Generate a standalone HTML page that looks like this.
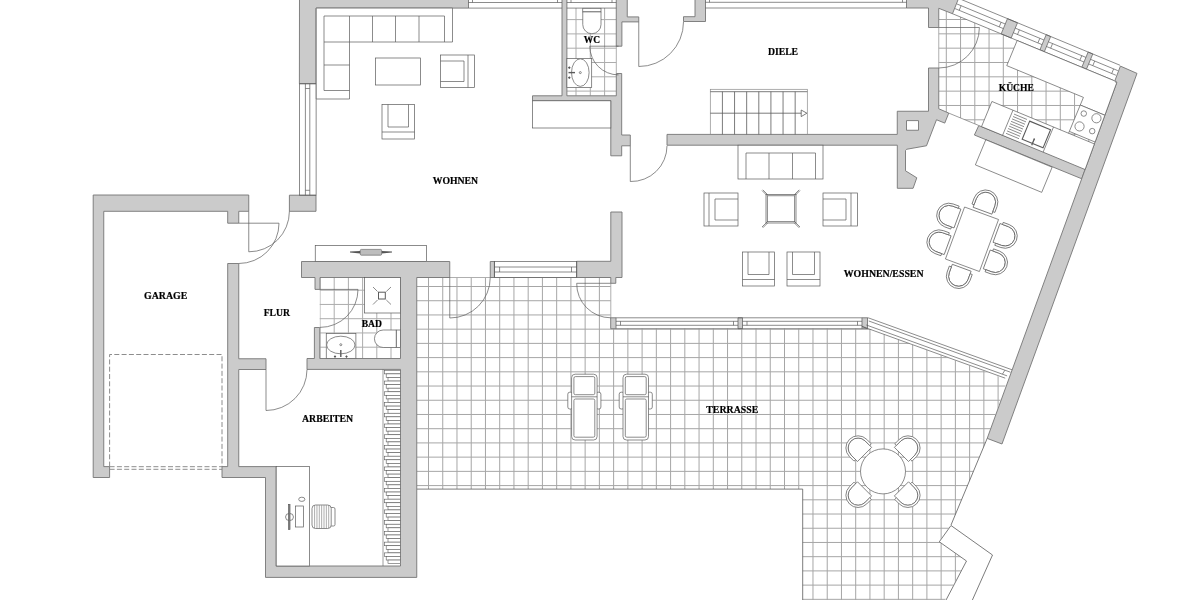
<!DOCTYPE html>
<html lang="de"><head><meta charset="utf-8"><title>Grundriss</title>
<style>html,body{margin:0;padding:0;background:#fff;}body{width:1200px;height:600px;overflow:hidden;}svg{display:block;}text{font-family:"Liberation Serif",serif;font-weight:bold;fill:#000;stroke:#000;stroke-width:0.2px;}</style>
</head><body>
<svg width="1200" height="600" viewBox="0 0 1200 600">
<rect x="0" y="0" width="1200" height="600" fill="#fff"/>
<defs>
<clipPath id="cT"><polygon points="416.75,277.50 610.80,277.50 610.80,328.70 868.75,328.70 1007.50,379.80 987.20,438.40 951.00,525.00 939.00,541.50 966.60,561.00 945.00,600.00 802.70,600.00 802.70,489.10 416.75,489.10"/></clipPath>
<clipPath id="cK"><polygon points="938.75,8.30 952.49,13.71 1116.90,82.10 1085.40,168.75 978.72,125.46 948.75,113.10 938.75,108.75"/></clipPath>
<clipPath id="cW"><rect x="566.9" y="8.1" width="49.4" height="87.7"/></clipPath>
<clipPath id="cB"><rect x="319.75" y="277.5" width="80.8" height="81"/></clipPath>
<filter id="idf" x="0" y="0" width="1200" height="600" filterUnits="userSpaceOnUse" color-interpolation-filters="sRGB"><feOffset dx="0" dy="0"/></filter>
</defs>
<g clip-path="url(#cT)" stroke="#a6a6a6" stroke-width="1" fill="none">
<line x1="428.50" y1="270.00" x2="428.50" y2="600.00" />
<line x1="442.74" y1="270.00" x2="442.74" y2="600.00" />
<line x1="456.98" y1="270.00" x2="456.98" y2="600.00" />
<line x1="471.22" y1="270.00" x2="471.22" y2="600.00" />
<line x1="485.46" y1="270.00" x2="485.46" y2="600.00" />
<line x1="499.70" y1="270.00" x2="499.70" y2="600.00" />
<line x1="513.94" y1="270.00" x2="513.94" y2="600.00" />
<line x1="528.18" y1="270.00" x2="528.18" y2="600.00" />
<line x1="542.42" y1="270.00" x2="542.42" y2="600.00" />
<line x1="556.66" y1="270.00" x2="556.66" y2="600.00" />
<line x1="570.90" y1="270.00" x2="570.90" y2="600.00" />
<line x1="585.14" y1="270.00" x2="585.14" y2="600.00" />
<line x1="599.38" y1="270.00" x2="599.38" y2="600.00" />
<line x1="613.62" y1="270.00" x2="613.62" y2="600.00" />
<line x1="627.86" y1="270.00" x2="627.86" y2="600.00" />
<line x1="642.10" y1="270.00" x2="642.10" y2="600.00" />
<line x1="656.34" y1="270.00" x2="656.34" y2="600.00" />
<line x1="670.58" y1="270.00" x2="670.58" y2="600.00" />
<line x1="684.82" y1="270.00" x2="684.82" y2="600.00" />
<line x1="699.06" y1="270.00" x2="699.06" y2="600.00" />
<line x1="713.30" y1="270.00" x2="713.30" y2="600.00" />
<line x1="727.54" y1="270.00" x2="727.54" y2="600.00" />
<line x1="741.78" y1="270.00" x2="741.78" y2="600.00" />
<line x1="756.02" y1="270.00" x2="756.02" y2="600.00" />
<line x1="770.26" y1="270.00" x2="770.26" y2="600.00" />
<line x1="784.50" y1="270.00" x2="784.50" y2="600.00" />
<line x1="798.74" y1="270.00" x2="798.74" y2="600.00" />
<line x1="812.98" y1="270.00" x2="812.98" y2="600.00" />
<line x1="827.22" y1="270.00" x2="827.22" y2="600.00" />
<line x1="841.46" y1="270.00" x2="841.46" y2="600.00" />
<line x1="855.70" y1="270.00" x2="855.70" y2="600.00" />
<line x1="869.94" y1="270.00" x2="869.94" y2="600.00" />
<line x1="884.18" y1="270.00" x2="884.18" y2="600.00" />
<line x1="898.42" y1="270.00" x2="898.42" y2="600.00" />
<line x1="912.66" y1="270.00" x2="912.66" y2="600.00" />
<line x1="926.90" y1="270.00" x2="926.90" y2="600.00" />
<line x1="941.14" y1="270.00" x2="941.14" y2="600.00" />
<line x1="955.38" y1="270.00" x2="955.38" y2="600.00" />
<line x1="969.62" y1="270.00" x2="969.62" y2="600.00" />
<line x1="983.86" y1="270.00" x2="983.86" y2="600.00" />
<line x1="998.10" y1="270.00" x2="998.10" y2="600.00" />
<line x1="410.00" y1="286.50" x2="1010.00" y2="286.50" />
<line x1="410.00" y1="300.72" x2="1010.00" y2="300.72" />
<line x1="410.00" y1="314.94" x2="1010.00" y2="314.94" />
<line x1="410.00" y1="329.16" x2="1010.00" y2="329.16" />
<line x1="410.00" y1="343.38" x2="1010.00" y2="343.38" />
<line x1="410.00" y1="357.60" x2="1010.00" y2="357.60" />
<line x1="410.00" y1="371.82" x2="1010.00" y2="371.82" />
<line x1="410.00" y1="386.04" x2="1010.00" y2="386.04" />
<line x1="410.00" y1="400.26" x2="1010.00" y2="400.26" />
<line x1="410.00" y1="414.48" x2="1010.00" y2="414.48" />
<line x1="410.00" y1="428.70" x2="1010.00" y2="428.70" />
<line x1="410.00" y1="442.92" x2="1010.00" y2="442.92" />
<line x1="410.00" y1="457.14" x2="1010.00" y2="457.14" />
<line x1="410.00" y1="471.36" x2="1010.00" y2="471.36" />
<line x1="410.00" y1="485.58" x2="1010.00" y2="485.58" />
<line x1="410.00" y1="499.80" x2="1010.00" y2="499.80" />
<line x1="410.00" y1="514.02" x2="1010.00" y2="514.02" />
<line x1="410.00" y1="528.24" x2="1010.00" y2="528.24" />
<line x1="410.00" y1="542.46" x2="1010.00" y2="542.46" />
<line x1="410.00" y1="556.68" x2="1010.00" y2="556.68" />
<line x1="410.00" y1="570.90" x2="1010.00" y2="570.90" />
<line x1="410.00" y1="585.12" x2="1010.00" y2="585.12" />
<line x1="410.00" y1="599.34" x2="1010.00" y2="599.34" />
</g>
<g stroke="#a6a6a6" stroke-width="0.9" fill="none">
<line x1="416.75" y1="277.50" x2="610.80" y2="277.50" />
<line x1="610.80" y1="283.30" x2="610.80" y2="317.80" />
<line x1="938.75" y1="27.50" x2="938.75" y2="68.00" />
<line x1="616.30" y1="46.20" x2="616.30" y2="73.50" />
</g>
<g stroke="#5a5a5a" stroke-width="0.8" fill="none">
<polyline points="416.75,489.10 802.70,489.10 802.70,600.00" />
<polyline points="987.20,438.40 951.00,525.00" />
</g>
<g clip-path="url(#cK)" stroke="#a6a6a6" stroke-width="1" fill="none">
<line x1="946.30" y1="0.00" x2="946.30" y2="180.00" />
<line x1="960.55" y1="0.00" x2="960.55" y2="180.00" />
<line x1="974.80" y1="0.00" x2="974.80" y2="180.00" />
<line x1="989.05" y1="0.00" x2="989.05" y2="180.00" />
<line x1="1003.30" y1="0.00" x2="1003.30" y2="180.00" />
<line x1="1017.55" y1="0.00" x2="1017.55" y2="180.00" />
<line x1="1031.80" y1="0.00" x2="1031.80" y2="180.00" />
<line x1="1046.05" y1="0.00" x2="1046.05" y2="180.00" />
<line x1="1060.30" y1="0.00" x2="1060.30" y2="180.00" />
<line x1="1074.55" y1="0.00" x2="1074.55" y2="180.00" />
<line x1="1088.80" y1="0.00" x2="1088.80" y2="180.00" />
<line x1="1103.05" y1="0.00" x2="1103.05" y2="180.00" />
<line x1="1117.30" y1="0.00" x2="1117.30" y2="180.00" />
<line x1="1131.55" y1="0.00" x2="1131.55" y2="180.00" />
<line x1="930.00" y1="19.50" x2="1130.00" y2="19.50" />
<line x1="930.00" y1="33.83" x2="1130.00" y2="33.83" />
<line x1="930.00" y1="48.16" x2="1130.00" y2="48.16" />
<line x1="930.00" y1="62.49" x2="1130.00" y2="62.49" />
<line x1="930.00" y1="76.82" x2="1130.00" y2="76.82" />
<line x1="930.00" y1="91.15" x2="1130.00" y2="91.15" />
<line x1="930.00" y1="105.48" x2="1130.00" y2="105.48" />
<line x1="930.00" y1="119.81" x2="1130.00" y2="119.81" />
<line x1="930.00" y1="134.14" x2="1130.00" y2="134.14" />
<line x1="930.00" y1="148.47" x2="1130.00" y2="148.47" />
<line x1="930.00" y1="162.80" x2="1130.00" y2="162.80" />
<line x1="930.00" y1="177.13" x2="1130.00" y2="177.13" />
</g>
<line x1="948.75" y1="113.10" x2="978.72" y2="125.46" stroke="#5a5a5a" stroke-width="0.6"/>
<g clip-path="url(#cW)" stroke="#adadad" stroke-width="1" fill="none">
<line x1="576.00" y1="0.00" x2="576.00" y2="100.00" />
<line x1="590.30" y1="0.00" x2="590.30" y2="100.00" />
<line x1="604.60" y1="0.00" x2="604.60" y2="100.00" />
<line x1="560.00" y1="5.30" x2="620.00" y2="5.30" />
<line x1="560.00" y1="19.60" x2="620.00" y2="19.60" />
<line x1="560.00" y1="33.90" x2="620.00" y2="33.90" />
<line x1="560.00" y1="48.20" x2="620.00" y2="48.20" />
<line x1="560.00" y1="62.50" x2="620.00" y2="62.50" />
<line x1="560.00" y1="76.80" x2="620.00" y2="76.80" />
<line x1="560.00" y1="91.10" x2="620.00" y2="91.10" />
</g>
<g clip-path="url(#cB)" stroke="#adadad" stroke-width="1" fill="none">
<line x1="320.00" y1="270.00" x2="320.00" y2="360.00" />
<line x1="334.20" y1="270.00" x2="334.20" y2="360.00" />
<line x1="348.40" y1="270.00" x2="348.40" y2="360.00" />
<line x1="362.60" y1="270.00" x2="362.60" y2="360.00" />
<line x1="376.80" y1="270.00" x2="376.80" y2="360.00" />
<line x1="391.00" y1="270.00" x2="391.00" y2="360.00" />
<line x1="315.00" y1="290.20" x2="401.00" y2="290.20" />
<line x1="315.00" y1="304.45" x2="401.00" y2="304.45" />
<line x1="315.00" y1="318.70" x2="401.00" y2="318.70" />
<line x1="315.00" y1="332.95" x2="401.00" y2="332.95" />
<line x1="315.00" y1="347.20" x2="401.00" y2="347.20" />
<line x1="315.00" y1="361.45" x2="401.00" y2="361.45" />
</g>
<g fill="#cbcbcb" stroke="#757575" stroke-width="0.9" stroke-linejoin="miter">
<polygon points="299.50,-2.00 468.50,-2.00 468.50,8.10 316.00,8.10 316.00,83.75 299.40,83.75" />
<polygon points="289.40,195.20 316.00,195.20 316.00,211.30 289.40,211.30" />
<polygon points="93.20,195.00 248.75,195.00 248.75,211.30 238.75,211.30 238.75,223.20 227.70,223.20 227.70,211.30 103.75,211.30 103.75,466.60 109.60,466.60 109.60,477.50 93.20,477.50" />
<polygon points="227.70,263.50 238.75,263.50 238.75,358.75 266.00,358.75 266.00,369.50 238.75,369.50 238.75,466.60 276.20,466.60 276.20,566.00 400.50,566.00 400.50,369.40 307.00,369.40 307.00,358.50 314.40,358.50 314.40,327.50 319.75,327.50 319.75,358.50 400.50,358.50 400.50,277.50 320.00,277.50 320.00,289.40 315.00,289.40 315.00,277.50 301.50,277.50 301.50,261.50 449.75,261.50 449.75,277.50 416.75,277.50 416.75,577.40 265.50,577.40 265.50,477.50 222.00,477.50 222.00,466.60 227.70,466.60" />
<polygon points="610.80,212.00 622.00,212.00 622.00,277.50 615.80,277.50 615.80,283.30 610.80,283.30 610.80,277.50 576.70,277.50 576.70,261.30 610.80,261.30" />
<polygon points="616.25,-2.00 627.25,-2.00 627.25,16.90 638.75,16.90 638.75,21.90 621.90,21.90 621.90,46.20 616.25,46.20" />
<polygon points="532.50,95.80 562.00,95.80 562.00,-2.00 566.90,-2.00 566.90,95.80 616.30,95.80 616.30,73.50 621.70,73.50 621.70,135.00 630.30,135.00 630.30,145.80 621.70,145.80 621.70,155.80 610.80,155.80 610.80,100.80 532.50,100.80" />
<polygon points="695.00,-2.00 705.50,-2.00 705.50,21.50 683.50,21.50 683.50,16.70 695.00,16.70" />
<polygon points="906.50,-2.00 906.50,8.00 928.50,8.00 928.50,27.50 938.75,27.50 938.75,8.30 952.49,13.71 958.75,-2.00" />
<path fill-rule="evenodd" d="M667,134.4 L897.25,134.4 L897.25,111.25 L928.5,111.25 L928.5,68 L938.75,68 L938.75,108.75 L948.75,113.1 L944.75,123.1 L936.5,119.75 L926.5,145.75 L906.7,149.25 L905.5,150.5 L905.5,170.8 L916.8,177.8 L913.1,188.3 L897.3,188.3 L897.3,145.2 L667,145.2 Z M906.5,120.6 L918.5,120.6 L918.5,130.25 L906.5,130.25 Z"/>
<polygon points="978.75,125.60 1085.40,168.75 1081.70,178.75 974.40,135.00" />
<polygon points="1007.49,18.64 1017.47,22.77 1011.16,38.01 1001.18,33.88" />
<polygon points="1046.20,34.67 1050.64,36.51 1044.32,51.75 1039.89,49.92" />
<polygon points="1088.15,52.04 1092.77,53.96 1086.45,69.20 1081.83,67.29" />
<polygon points="610.70,317.80 616.00,317.80 616.00,328.70 610.70,328.70" />
<polygon points="738.00,317.80 742.50,317.80 742.50,328.70 738.00,328.70" />
<polygon points="862.00,317.80 867.50,317.80 867.50,328.70 862.00,328.70" />
<polygon points="490.25,261.50 494.40,261.50 494.40,277.50 490.25,277.50" />
</g>
<g fill="none" stroke="#5a5a5a" stroke-width="0.7">
<line x1="468.50" y1="8.10" x2="562.00" y2="8.10" />
<line x1="468.50" y1="2.50" x2="562.00" y2="2.50" />
<line x1="472.50" y1="0.00" x2="472.50" y2="2.50" />
<line x1="557.50" y1="0.00" x2="557.50" y2="2.50" />
<line x1="566.90" y1="8.10" x2="616.25" y2="8.10" />
<line x1="566.90" y1="2.50" x2="616.25" y2="2.50" />
<line x1="571.00" y1="0.00" x2="571.00" y2="2.50" />
<line x1="612.00" y1="0.00" x2="612.00" y2="2.50" />
<line x1="705.50" y1="8.00" x2="906.50" y2="8.00" />
<line x1="705.50" y1="2.30" x2="906.50" y2="2.30" />
<line x1="709.50" y1="0.00" x2="709.50" y2="2.30" />
<line x1="902.50" y1="0.00" x2="902.50" y2="2.30" />
<rect x="299.50" y="83.75" width="16.60" height="111.45" />
<line x1="305.40" y1="83.75" x2="305.40" y2="195.20" />
<line x1="309.80" y1="83.75" x2="309.80" y2="195.20" />
<line x1="305.40" y1="88.50" x2="309.80" y2="88.50" />
<line x1="305.40" y1="190.30" x2="309.80" y2="190.30" />
<rect x="494.40" y="261.50" width="82.30" height="16.00" />
<line x1="494.40" y1="267.00" x2="576.70" y2="267.00" />
<line x1="494.40" y1="272.00" x2="576.70" y2="272.00" />
<line x1="499.60" y1="267.00" x2="499.60" y2="272.00" />
<line x1="571.50" y1="267.00" x2="571.50" y2="272.00" />
<line x1="616.00" y1="317.80" x2="862.00" y2="317.80" />
<line x1="616.00" y1="328.70" x2="862.00" y2="328.70" />
<line x1="616.00" y1="321.30" x2="738.00" y2="321.30" />
<line x1="616.00" y1="325.30" x2="738.00" y2="325.30" />
<line x1="620.50" y1="321.30" x2="620.50" y2="325.30" />
<line x1="733.50" y1="321.30" x2="733.50" y2="325.30" />
<line x1="742.50" y1="321.30" x2="862.00" y2="321.30" />
<line x1="742.50" y1="325.30" x2="862.00" y2="325.30" />
<line x1="747.00" y1="321.30" x2="747.00" y2="325.30" />
<line x1="857.50" y1="321.30" x2="857.50" y2="325.30" />
<polyline points="867.50,317.80 868.75,318.00 1012.44,369.94" />
<polyline points="867.50,328.70 861.90,326.37 1005.21,378.17" />
<line x1="868.74" y1="320.97" x2="1010.55" y2="372.23" />
<line x1="866.23" y1="324.96" x2="1007.10" y2="375.88" />
<line x1="1004.91" y1="370.19" x2="1002.40" y2="374.18" />
<line x1="959.27" y1="-1.34" x2="1120.02" y2="65.25" />
<line x1="952.49" y1="13.71" x2="1113.71" y2="80.49" />
<line x1="956.95" y1="3.98" x2="1005.27" y2="24.00" />
<line x1="955.04" y1="8.60" x2="1003.36" y2="28.61" />
<line x1="961.11" y1="5.70" x2="959.20" y2="10.32" />
<line x1="1001.12" y1="22.27" x2="999.20" y2="26.89" />
<line x1="1015.25" y1="28.13" x2="1043.98" y2="40.03" />
<line x1="1013.34" y1="32.75" x2="1042.07" y2="44.65" />
<line x1="1019.41" y1="29.85" x2="1017.50" y2="34.47" />
<line x1="1039.83" y1="38.31" x2="1037.91" y2="42.93" />
<line x1="1048.42" y1="41.87" x2="1085.93" y2="57.40" />
<line x1="1046.51" y1="46.49" x2="1084.01" y2="62.02" />
<line x1="1052.58" y1="43.59" x2="1050.66" y2="48.21" />
<line x1="1081.77" y1="55.68" x2="1079.86" y2="60.30" />
<line x1="1090.55" y1="59.32" x2="1117.80" y2="70.61" />
<line x1="1088.63" y1="63.94" x2="1115.89" y2="75.23" />
<line x1="1094.70" y1="61.04" x2="1092.79" y2="65.66" />
<line x1="1113.64" y1="68.88" x2="1111.73" y2="73.50" />
</g>
<g fill="#cbcbcb" stroke="#757575" stroke-width="0.9" stroke-linejoin="miter">
<polygon points="1120.40,66.10 1137.00,73.40 1002.00,444.00 987.20,438.40 1116.90,82.10 1114.90,80.70" />
</g>
<g fill="none" stroke="#5a5a5a" stroke-width="0.7">
<path d="M238.75,223.20 L279.00,223.20 A40.25,40.25 0 0 1 238.75,263.50"/>
<path d="M248.75,211.30 L248.75,251.80 A40.50,40.50 0 0 0 289.40,211.30"/>
<path d="M320.00,289.40 L358.00,289.40 A38.00,38.00 0 0 1 320.00,327.40"/>
<path d="M266.00,369.50 L266.00,410.50 A41.00,41.00 0 0 0 307.00,369.50"/>
<path d="M449.75,277.50 L449.75,318.00 A40.50,40.50 0 0 0 490.25,277.50"/>
<path d="M610.80,283.30 L576.70,283.30 A34.10,34.10 0 0 0 610.80,317.80"/>
<path d="M618.50,46.20 L589.80,46.20 A28.70,28.70 0 0 0 618.50,74.90"/>
<path d="M638.75,21.90 L638.75,66.50 A44.60,44.60 0 0 0 683.50,21.90"/>
<path d="M630.30,145.80 L630.30,181.50 A35.70,35.70 0 0 0 667.00,145.80"/>
<path d="M938.75,27.50 L979.40,27.50 A40.65,40.65 0 0 1 938.75,68.00"/>
</g>
<g fill="#fff" stroke="#5a5a5a" stroke-width="0.7" stroke-linejoin="miter">
<polygon points="316.25,8.10 452.50,8.10 452.50,42.00 349.50,42.00 349.50,99.00 316.25,99.00" />
</g>
<g fill="none" stroke="#5a5a5a" stroke-width="0.7">
<polyline points="324.00,90.50 324.00,16.00 444.50,16.00 444.50,42.00" />
<line x1="349.50" y1="16.00" x2="349.50" y2="42.00" />
<line x1="372.50" y1="16.00" x2="372.50" y2="42.00" />
<line x1="395.50" y1="16.00" x2="395.50" y2="42.00" />
<line x1="419.00" y1="16.00" x2="419.00" y2="42.00" />
<line x1="324.00" y1="42.00" x2="349.50" y2="42.00" />
<line x1="324.00" y1="65.00" x2="349.50" y2="65.00" />
<line x1="324.00" y1="90.50" x2="349.50" y2="90.50" />
<rect x="375.50" y="58.00" width="45.00" height="27.00" />
<rect x="440.50" y="55.00" width="34.00" height="32.50" fill="#fff"/>
<line x1="468.00" y1="55.00" x2="468.00" y2="87.50" />
<polyline points="440.50,61.00 464.00,61.00 464.00,81.50 440.50,81.50" />
<rect x="382.00" y="104.50" width="32.50" height="34.50" fill="#fff"/>
<line x1="382.00" y1="132.00" x2="414.50" y2="132.00" />
<polyline points="388.00,104.50 388.00,127.00 408.50,127.00 408.50,104.50" />
<rect x="704.00" y="193.00" width="34.00" height="33.00" fill="#fff"/>
<line x1="709.00" y1="193.00" x2="709.00" y2="226.00" />
<polyline points="738.00,199.00 715.00,199.00 715.00,220.00 738.00,220.00" />
<rect x="823.00" y="193.00" width="34.50" height="33.00" fill="#fff"/>
<line x1="851.00" y1="193.00" x2="851.00" y2="226.00" />
<polyline points="823.00,199.00 846.00,199.00 846.00,220.00 823.00,220.00" />
<rect x="742.50" y="252.00" width="32.00" height="34.00" fill="#fff"/>
<line x1="742.50" y1="279.50" x2="774.50" y2="279.50" />
<polyline points="748.00,252.00 748.00,274.50 769.00,274.50 769.00,252.00" />
<rect x="787.00" y="252.00" width="33.00" height="34.00" fill="#fff"/>
<line x1="787.00" y1="279.50" x2="820.00" y2="279.50" />
<polyline points="792.50,252.00 792.50,274.50 814.50,274.50 814.50,252.00" />
<rect x="315.25" y="245.60" width="111.35" height="15.90" fill="#fff"/>
<rect x="532.50" y="100.80" width="78.30" height="27.20" fill="#fff"/>
<rect x="738.00" y="145.20" width="85.00" height="33.80" fill="#fff"/>
<polyline points="746.00,179.00 746.00,153.00 815.50,153.00 815.50,179.00" />
<line x1="769.00" y1="153.00" x2="769.00" y2="179.00" />
<line x1="792.50" y1="153.00" x2="792.50" y2="179.00" />
<rect x="766.00" y="194.50" width="30.00" height="28.50" />
<rect x="767.30" y="195.80" width="27.40" height="25.90" />
<line x1="762.00" y1="190.50" x2="767.00" y2="195.50" />
<line x1="800.00" y1="190.50" x2="795.00" y2="195.50" />
<line x1="762.00" y1="227.00" x2="767.00" y2="222.00" />
<line x1="800.00" y1="227.00" x2="795.00" y2="222.00" />
<line x1="762.80" y1="189.80" x2="767.80" y2="194.80" />
<line x1="799.20" y1="189.80" x2="794.20" y2="194.80" />
<line x1="762.80" y1="227.80" x2="767.80" y2="222.80" />
<line x1="799.20" y1="227.80" x2="794.20" y2="222.80" />
</g>
<path d="M350,251.6 L360.3,251 L360.3,253.6 L350,252.6 Z M392,251.6 L381.6,251 L381.6,253.6 L392,252.6 Z" fill="#555" stroke="none"/>
<rect x="360.3" y="249.4" width="21.3" height="5.8" rx="1" fill="#bdbdbd" stroke="#5a5a5a" stroke-width="0.6"/>
<g fill="none" stroke="#8a8a8a" stroke-width="0.7">
<rect x="710.30" y="89.30" width="97.00" height="45.10" />
</g>
<g fill="none" stroke="#5a5a5a" stroke-width="0.8">
<line x1="710.30" y1="91.70" x2="807.30" y2="91.70" />
<line x1="722.42" y1="91.70" x2="722.42" y2="134.40" />
<line x1="734.55" y1="91.70" x2="734.55" y2="134.40" />
<line x1="746.67" y1="91.70" x2="746.67" y2="134.40" />
<line x1="758.80" y1="91.70" x2="758.80" y2="134.40" />
<line x1="770.92" y1="91.70" x2="770.92" y2="134.40" />
<line x1="783.05" y1="91.70" x2="783.05" y2="134.40" />
<line x1="795.17" y1="91.70" x2="795.17" y2="134.40" />
<line x1="710.30" y1="113.20" x2="801.20" y2="113.20" />
<polygon points="801.20,110.00 806.90,113.20 801.20,116.60" />
</g>
<g fill="#fff" stroke="#5a5a5a" stroke-width="0.7">
<polygon points="1017.16,40.50 1115.09,81.07 1116.51,83.27 1104.86,115.25 1080.26,105.06 1083.43,97.39 1006.75,65.63" />
<polygon points="1080.26,105.06 1104.86,115.25 1095.10,142.06 1069.35,131.39" />
<polygon points="991.90,101.48 1094.41,143.94 1085.09,169.52 981.50,126.61" />
<polygon points="985.79,139.75 1052.13,167.23 1041.72,192.36 975.38,164.88" />
</g>
<g fill="none" stroke="#5a5a5a" stroke-width="0.7">
<line x1="1069.35" y1="131.39" x2="1068.59" y2="133.24" />
<line x1="1053.53" y1="127.00" x2="1043.12" y2="152.13" />
<line x1="1012.97" y1="110.20" x2="1002.56" y2="135.33" />
<line x1="1014.05" y1="114.12" x2="1026.99" y2="119.47" />
<line x1="1013.06" y1="116.52" x2="1025.99" y2="121.88" />
<line x1="1012.06" y1="118.92" x2="1025.00" y2="124.28" />
<line x1="1011.07" y1="121.32" x2="1024.00" y2="126.68" />
<line x1="1010.07" y1="123.72" x2="1023.01" y2="129.08" />
<line x1="1009.08" y1="126.13" x2="1022.01" y2="131.48" />
<line x1="1008.08" y1="128.53" x2="1021.02" y2="133.89" />
<line x1="1007.09" y1="130.93" x2="1020.02" y2="136.29" />
<line x1="1006.09" y1="133.33" x2="1019.03" y2="138.69" />
<polygon points="1029.66,121.12 1050.54,129.77 1043.04,147.88 1022.16,139.23" stroke-width="1.1"/>
<line x1="1031.73" y1="145.14" x2="1034.06" y2="139.50" stroke-width="1.3"/>
<circle cx="1034.18" cy="139.23" r="0.9" fill="#666" stroke="none"/>
<circle cx="1083.78" cy="113.55" r="2.75"/>
<circle cx="1096.44" cy="118.26" r="4.6"/>
<circle cx="1079.53" cy="126.41" r="4.6"/>
<circle cx="1092.20" cy="131.11" r="2.75"/>
</g>
<g fill="#fff" stroke="#5a5a5a" stroke-width="0.7">
<g transform="translate(985.64,202.18) rotate(20.20)"><path d="M-10.00,0 L-10.00,9.10 L10.00,9.10 L10.00,0 A10.00,10.00 0 0 0 -10.00,0 Z"/><path d="M-12.20,6.40 L-12.20,0 A12.20,12.20 0 0 1 12.20,0 L12.20,6.40 L10.00,6.40 L10.00,0 A10.00,10.00 0 0 0 -10.00,0 L-10.00,6.40 Z"/></g>
<g transform="translate(958.58,276.30) rotate(200.20)"><path d="M-10.00,0 L-10.00,9.10 L10.00,9.10 L10.00,0 A10.00,10.00 0 0 0 -10.00,0 Z"/><path d="M-12.20,6.40 L-12.20,0 A12.20,12.20 0 0 1 12.20,0 L12.20,6.40 L10.00,6.40 L10.00,0 A10.00,10.00 0 0 0 -10.00,0 L-10.00,6.40 Z"/></g>
<g transform="translate(948.91,215.41) rotate(-69.80)"><path d="M-10.00,0 L-10.00,9.10 L10.00,9.10 L10.00,0 A10.00,10.00 0 0 0 -10.00,0 Z"/><path d="M-12.20,6.40 L-12.20,0 A12.20,12.20 0 0 1 12.20,0 L12.20,6.40 L10.00,6.40 L10.00,0 A10.00,10.00 0 0 0 -10.00,0 L-10.00,6.40 Z"/></g>
<g transform="translate(939.10,242.06) rotate(-69.80)"><path d="M-10.00,0 L-10.00,9.10 L10.00,9.10 L10.00,0 A10.00,10.00 0 0 0 -10.00,0 Z"/><path d="M-12.20,6.40 L-12.20,0 A12.20,12.20 0 0 1 12.20,0 L12.20,6.40 L10.00,6.40 L10.00,0 A10.00,10.00 0 0 0 -10.00,0 L-10.00,6.40 Z"/></g>
<g transform="translate(1005.03,236.06) rotate(110.20)"><path d="M-10.00,0 L-10.00,9.10 L10.00,9.10 L10.00,0 A10.00,10.00 0 0 0 -10.00,0 Z"/><path d="M-12.20,6.40 L-12.20,0 A12.20,12.20 0 0 1 12.20,0 L12.20,6.40 L10.00,6.40 L10.00,0 A10.00,10.00 0 0 0 -10.00,0 L-10.00,6.40 Z"/></g>
<g transform="translate(995.30,262.53) rotate(110.20)"><path d="M-10.00,0 L-10.00,9.10 L10.00,9.10 L10.00,0 A10.00,10.00 0 0 0 -10.00,0 Z"/><path d="M-12.20,6.40 L-12.20,0 A12.20,12.20 0 0 1 12.20,0 L12.20,6.40 L10.00,6.40 L10.00,0 A10.00,10.00 0 0 0 -10.00,0 L-10.00,6.40 Z"/></g>
<polygon points="964.58,207.00 998.55,219.50 979.42,271.50 945.45,259.00" />
<g transform="translate(858.10,448.00) rotate(-45.00)"><path d="M-10.00,0 L-10.00,9.10 L10.00,9.10 L10.00,0 A10.00,10.00 0 0 0 -10.00,0 Z"/><path d="M-12.20,6.40 L-12.20,0 A12.20,12.20 0 0 1 12.20,0 L12.20,6.40 L10.00,6.40 L10.00,0 A10.00,10.00 0 0 0 -10.00,0 L-10.00,6.40 Z"/></g>
<g transform="translate(907.90,448.00) rotate(45.00)"><path d="M-10.00,0 L-10.00,9.10 L10.00,9.10 L10.00,0 A10.00,10.00 0 0 0 -10.00,0 Z"/><path d="M-12.20,6.40 L-12.20,0 A12.20,12.20 0 0 1 12.20,0 L12.20,6.40 L10.00,6.40 L10.00,0 A10.00,10.00 0 0 0 -10.00,0 L-10.00,6.40 Z"/></g>
<g transform="translate(858.10,495.30) rotate(-135.00)"><path d="M-10.00,0 L-10.00,9.10 L10.00,9.10 L10.00,0 A10.00,10.00 0 0 0 -10.00,0 Z"/><path d="M-12.20,6.40 L-12.20,0 A12.20,12.20 0 0 1 12.20,0 L12.20,6.40 L10.00,6.40 L10.00,0 A10.00,10.00 0 0 0 -10.00,0 L-10.00,6.40 Z"/></g>
<g transform="translate(907.90,495.30) rotate(135.00)"><path d="M-10.00,0 L-10.00,9.10 L10.00,9.10 L10.00,0 A10.00,10.00 0 0 0 -10.00,0 Z"/><path d="M-12.20,6.40 L-12.20,0 A12.20,12.20 0 0 1 12.20,0 L12.20,6.40 L10.00,6.40 L10.00,0 A10.00,10.00 0 0 0 -10.00,0 L-10.00,6.40 Z"/></g>
<circle cx="883" cy="471.4" r="22.5"/>
</g>
<g fill="#fff" stroke="#5a5a5a" stroke-width="0.7">
<rect x="567.80" y="392.2" width="5" height="16.8" rx="2"/>
<rect x="595.90" y="392.2" width="5" height="16.8" rx="2"/>
<rect x="571.60" y="374.2" width="25.5" height="65.8" rx="3.5"/>
<rect x="573.90" y="376.6" width="20.9" height="18.1" rx="1.5"/>
<rect x="573.90" y="399" width="20.9" height="38.2" rx="1.5"/>
<line x1="571.60" y1="396.80" x2="597.10" y2="396.80" />
<rect x="619.20" y="392.2" width="5" height="16.8" rx="2"/>
<rect x="647.30" y="392.2" width="5" height="16.8" rx="2"/>
<rect x="623.00" y="374.2" width="25.5" height="65.8" rx="3.5"/>
<rect x="625.30" y="376.6" width="20.9" height="18.1" rx="1.5"/>
<rect x="625.30" y="399" width="20.9" height="38.2" rx="1.5"/>
<line x1="623.00" y1="396.80" x2="648.50" y2="396.80" />
</g>
<g fill="#fff" stroke="#5a5a5a" stroke-width="0.8">
<polygon points="951.00,525.50 992.50,555.00 971.50,602.00 945.00,602.00 966.50,561.00 939.30,541.80" />
</g>
<g fill="#fff" stroke="#5a5a5a" stroke-width="0.7">
<rect x="276.20" y="466.60" width="33.40" height="99.40" />
<ellipse cx="289.5" cy="517" rx="4" ry="3.6"/>
<rect x="288.60" y="504.50" width="1.40" height="25.00" fill="#888"/>
<rect x="295.50" y="506.00" width="8.00" height="21.00" />
<ellipse cx="301.8" cy="499.3" rx="3.1" ry="2.1"/>
<rect x="329" y="507.5" width="6" height="18.5" rx="1.5"/>
<rect x="312" y="505" width="19.2" height="23.5" rx="3.5"/>
<line x1="314.60" y1="505.30" x2="314.60" y2="528.20" stroke-width="0.5"/>
<line x1="316.95" y1="505.30" x2="316.95" y2="528.20" stroke-width="0.5"/>
<line x1="319.30" y1="505.30" x2="319.30" y2="528.20" stroke-width="0.5"/>
<line x1="321.65" y1="505.30" x2="321.65" y2="528.20" stroke-width="0.5"/>
<line x1="324.00" y1="505.30" x2="324.00" y2="528.20" stroke-width="0.5"/>
<line x1="326.35" y1="505.30" x2="326.35" y2="528.20" stroke-width="0.5"/>
<line x1="328.70" y1="505.30" x2="328.70" y2="528.20" stroke-width="0.5"/>
</g>
<g fill="#fff" stroke="#5a5a5a" stroke-width="0.6">
<line x1="383.00" y1="369.40" x2="383.00" y2="566.00" />
<rect x="384.40" y="370.30" width="16.10" height="3.58" />
<rect x="386.20" y="373.88" width="14.30" height="3.58" />
<rect x="388.00" y="377.46" width="12.50" height="3.58" />
<rect x="384.40" y="381.04" width="16.10" height="3.58" />
<rect x="386.20" y="384.62" width="14.30" height="3.58" />
<rect x="388.00" y="388.20" width="12.50" height="3.58" />
<rect x="384.40" y="391.78" width="16.10" height="3.58" />
<rect x="386.20" y="395.36" width="14.30" height="3.58" />
<rect x="388.00" y="398.94" width="12.50" height="3.58" />
<rect x="384.40" y="402.52" width="16.10" height="3.58" />
<rect x="386.20" y="406.10" width="14.30" height="3.58" />
<rect x="388.00" y="409.68" width="12.50" height="3.58" />
<rect x="384.40" y="413.26" width="16.10" height="3.58" />
<rect x="386.20" y="416.84" width="14.30" height="3.58" />
<rect x="388.00" y="420.42" width="12.50" height="3.58" />
<rect x="384.40" y="424.00" width="16.10" height="3.58" />
<rect x="386.20" y="427.58" width="14.30" height="3.58" />
<rect x="388.00" y="431.16" width="12.50" height="3.58" />
<rect x="384.40" y="434.74" width="16.10" height="3.58" />
<rect x="386.20" y="438.32" width="14.30" height="3.58" />
<rect x="388.00" y="441.90" width="12.50" height="3.58" />
<rect x="384.40" y="445.48" width="16.10" height="3.58" />
<rect x="386.20" y="449.06" width="14.30" height="3.58" />
<rect x="388.00" y="452.64" width="12.50" height="3.58" />
<rect x="384.40" y="456.22" width="16.10" height="3.58" />
<rect x="386.20" y="459.80" width="14.30" height="3.58" />
<rect x="388.00" y="463.38" width="12.50" height="3.58" />
<rect x="384.40" y="466.96" width="16.10" height="3.58" />
<rect x="386.20" y="470.54" width="14.30" height="3.58" />
<rect x="388.00" y="474.12" width="12.50" height="3.58" />
<rect x="384.40" y="477.70" width="16.10" height="3.58" />
<rect x="386.20" y="481.28" width="14.30" height="3.58" />
<rect x="388.00" y="484.86" width="12.50" height="3.58" />
<rect x="384.40" y="488.44" width="16.10" height="3.58" />
<rect x="386.20" y="492.02" width="14.30" height="3.58" />
<rect x="388.00" y="495.60" width="12.50" height="3.58" />
<rect x="384.40" y="499.18" width="16.10" height="3.58" />
<rect x="386.20" y="502.76" width="14.30" height="3.58" />
<rect x="388.00" y="506.34" width="12.50" height="3.58" />
<rect x="384.40" y="509.92" width="16.10" height="3.58" />
<rect x="386.20" y="513.50" width="14.30" height="3.58" />
<rect x="388.00" y="517.08" width="12.50" height="3.58" />
<rect x="384.40" y="520.66" width="16.10" height="3.58" />
<rect x="386.20" y="524.24" width="14.30" height="3.58" />
<rect x="388.00" y="527.82" width="12.50" height="3.58" />
<rect x="384.40" y="531.40" width="16.10" height="3.58" />
<rect x="386.20" y="534.98" width="14.30" height="3.58" />
<rect x="388.00" y="538.56" width="12.50" height="3.58" />
<rect x="384.40" y="542.14" width="16.10" height="3.58" />
<rect x="386.20" y="545.72" width="14.30" height="3.58" />
<rect x="388.00" y="549.30" width="12.50" height="3.58" />
<rect x="384.40" y="552.88" width="16.10" height="3.58" />
<rect x="386.20" y="556.46" width="14.30" height="3.58" />
<rect x="388.00" y="560.04" width="12.50" height="3.58" />
</g>
<g fill="#fff" stroke="#5a5a5a" stroke-width="0.7">
<rect x="582.75" y="8.30" width="18.25" height="3.60" />
<path d="M582.75,11.9 L582.75,24.5 A9.12,9.2 0 0 0 601,24.5 L601,11.9 Z"/>
<rect x="566.90" y="58.50" width="24.80" height="29.00" />
<ellipse cx="580.3" cy="72.6" rx="8.8" ry="13.8"/>
<circle cx="580.3" cy="72.6" r="1" fill="none"/>
<path d="M568.5,72.6 L575,72.6" stroke-width="1.4"/>
<path d="M569.3,66.3 l1.4,1.4 l-1.4,1.4 l-1.4,-1.4 Z M569.3,76.3 l1.4,1.4 l-1.4,1.4 l-1.4,-1.4 Z" fill="#555" stroke="none"/>
</g>
<g fill="#fff" stroke="#5a5a5a" stroke-width="0.7">
<rect x="364.40" y="277.50" width="36.10" height="35.50" />
<rect x="378.50" y="292.20" width="6.80" height="6.80" stroke-width="1"/>
<line x1="373.00" y1="287.00" x2="377.50" y2="291.50" />
<line x1="391.00" y1="287.00" x2="386.30" y2="291.50" />
<line x1="373.00" y1="304.50" x2="377.50" y2="300.00" />
<line x1="391.00" y1="304.50" x2="386.30" y2="300.00" />
<rect x="326.25" y="333.50" width="29.65" height="25.00" />
<ellipse cx="340.8" cy="345" rx="14.2" ry="8.8"/>
<circle cx="340.8" cy="344.7" r="1" fill="none"/>
<path d="M340.8,350 L340.8,357" stroke-width="1.4"/>
<path d="M335,355.3 l1.3,1.3 l-1.3,1.3 l-1.3,-1.3 Z M346.5,355.3 l1.3,1.3 l-1.3,1.3 l-1.3,-1.3 Z" fill="#555" stroke="none"/>
<rect x="396.25" y="330.00" width="4.25" height="17.50" />
<path d="M396.25,330 L383.2,330 A8.75,8.75 0 0 0 383.2,347.5 L396.25,347.5 Z"/>
</g>
<g fill="none" stroke="#808080" stroke-width="0.9" stroke-dasharray="5,2.3">
<polyline points="109.60,466.60 109.60,354.50 222.00,354.50 222.00,466.60" />
<line x1="109.60" y1="466.70" x2="222.00" y2="466.70" />
<line x1="109.60" y1="469.30" x2="222.00" y2="469.30" />
</g>
<g filter="url(#idf)">
<text x="432.70" y="183.70" font-size="10" textLength="45.30" lengthAdjust="spacingAndGlyphs">WOHNEN</text>
<text x="583.70" y="43.00" font-size="10" textLength="16.30" lengthAdjust="spacingAndGlyphs">WC</text>
<text x="767.90" y="54.70" font-size="10" textLength="30.20" lengthAdjust="spacingAndGlyphs">DIELE</text>
<text x="998.70" y="91.10" font-size="10" textLength="35.20" lengthAdjust="spacingAndGlyphs">KÜCHE</text>
<text x="144.00" y="298.70" font-size="10" textLength="43.30" lengthAdjust="spacingAndGlyphs">GARAGE</text>
<text x="263.70" y="316.00" font-size="10" textLength="26.30" lengthAdjust="spacingAndGlyphs">FLUR</text>
<text x="361.70" y="326.60" font-size="10" textLength="20.30" lengthAdjust="spacingAndGlyphs">BAD</text>
<text x="302.00" y="422.00" font-size="10" textLength="51.20" lengthAdjust="spacingAndGlyphs">ARBEITEN</text>
<text x="706.30" y="412.90" font-size="10" textLength="52.00" lengthAdjust="spacingAndGlyphs">TERRASSE</text>
<text x="843.80" y="277.20" font-size="10" textLength="79.70" lengthAdjust="spacingAndGlyphs">WOHNEN/ESSEN</text>
</g>
</svg></body></html>
